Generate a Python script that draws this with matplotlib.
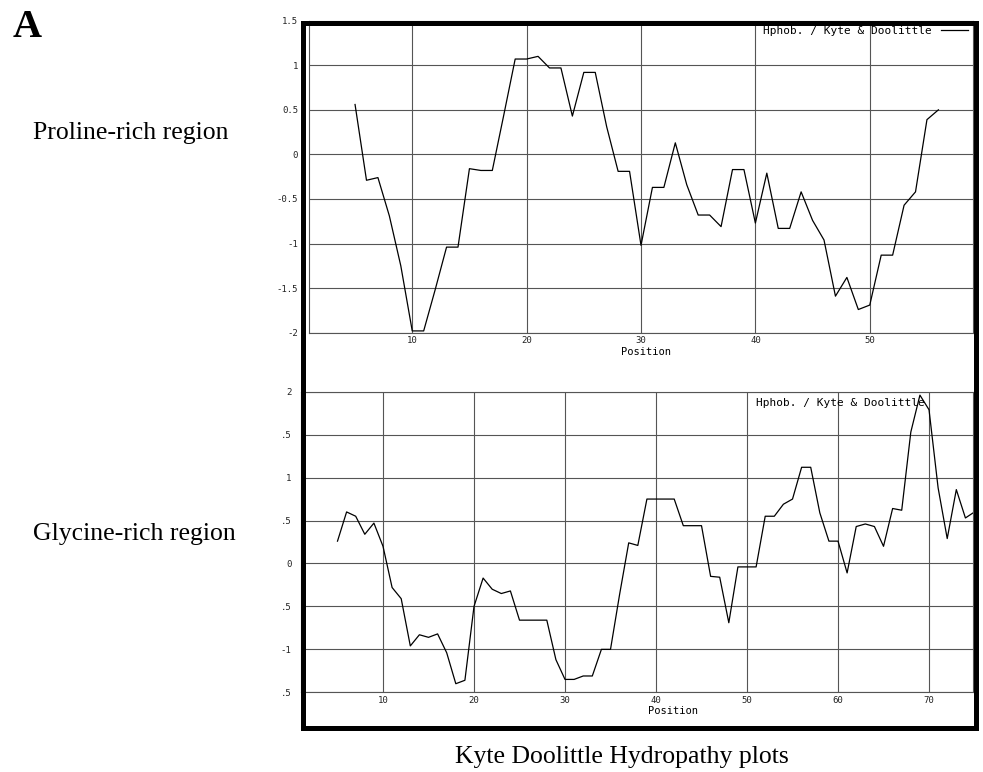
import numpy
import matplotlib
matplotlib.use('Agg')
import matplotlib.pyplot as plt
from matplotlib.patches import Rectangle

# Kyte & Doolittle hydropathy (window 9)
pro_pos = numpy.arange(5, 57)
pro_hphob = [0.56, -0.29, -0.26, -0.69, -1.25, -1.98, -1.98, -1.52, -1.04, -1.04,
             -0.16, -0.18, -0.18, 0.44, 1.07, 1.07, 1.10, 0.97, 0.97, 0.43,
             0.92, 0.92, 0.31, -0.19, -0.19, -1.02, -0.37, -0.37, 0.13, -0.34,
             -0.68, -0.68, -0.81, -0.17, -0.17, -0.77, -0.21, -0.83, -0.83, -0.42,
             -0.74, -0.96, -1.59, -1.38, -1.74, -1.69, -1.13, -1.13, -0.57, -0.42,
             0.39, 0.50]

gly_pos = numpy.arange(5, 76)
gly_hphob = [0.26, 0.60, 0.55, 0.34, 0.47, 0.20, -0.28, -0.41, -0.96, -0.83,
             -0.86, -0.82, -1.04, -1.40, -1.36, -0.50, -0.17, -0.30, -0.35, -0.32,
             -0.66, -0.66, -0.66, -0.66, -1.12, -1.35, -1.35, -1.31, -1.31, -1.00,
             -1.00, -0.36, 0.24, 0.21, 0.75, 0.75, 0.75, 0.75, 0.44, 0.44,
             0.44, -0.15, -0.16, -0.69, -0.04, -0.04, -0.04, 0.55, 0.55, 0.69,
             0.75, 1.12, 1.12, 0.59, 0.26, 0.26, -0.11, 0.43, 0.46, 0.43,
             0.20, 0.64, 0.62, 1.53, 1.96, 1.79, 0.88, 0.29, 0.86, 0.53,
             0.60]

pro_xticks = [10, 20, 30, 40, 50]
pro_yticks = [-2, -1.5, -1, -0.5, 0, 0.5, 1, 1.5]
pro_ylabels = ['-2', '-1.5', '-1', '-0.5', '0', '0.5', '1', '1.5']

gly_xticks = [10, 20, 30, 40, 50, 60, 70]
gly_yticks = [-1.5, -1, -0.5, 0, 0.5, 1, 1.5, 2]
# labels on the left of the lower plot are cut off in the original
gly_ylabels = ['.5', '-1', '.5', '0', '.5', '1', '.5', '2']

legend_txt = 'Hphob. / Kyte & Doolittle'
mono = 'DejaVu Sans Mono'
serif = 'Liberation Serif'

W, H = 983, 772


def px_axes(fig, l, t, r, b):
    return fig.add_axes([l / W, 1 - b / H, (r - l) / W, (b - t) / H])


def style(ax, xticks, yticks, ylabels, ypad):
    ax.set_xticks(xticks)
    ax.set_yticks(yticks)
    ax.set_yticklabels(ylabels)
    ax.grid(True, color='#555555', lw=0.8)
    ax.set_axisbelow(True)
    ax.tick_params(length=0, labelsize=6.5, labelcolor='#222222')
    ax.tick_params(axis='y', pad=ypad)
    ax.tick_params(axis='x', pad=2.5)
    for lab in ax.get_xticklabels() + ax.get_yticklabels():
        lab.set_family(mono)
    for s in ax.spines.values():
        s.set_color('#555555')
        s.set_linewidth(0.8)


fig = plt.figure(figsize=(9.83, 7.72), dpi=100)

ax1 = px_axes(fig, 309.3, 20.7, 972.7, 332.7)
ax1.plot(pro_pos, pro_hphob, color='black', lw=0.9, label=legend_txt)
ax1.set_xlim(1, 59)
ax1.set_ylim(-2, 1.5)
style(ax1, pro_xticks, pro_yticks, pro_ylabels, 8)
ax1.set_xlabel('Position', family=mono, fontsize=7.5)
ax1.xaxis.set_label_coords(0.507, -0.046)
ax1.legend(loc='upper right', frameon=False, markerfirst=False,
           prop={'family': mono, 'size': 8}, handlelength=2.4,
           handletextpad=0.8, borderaxespad=0.15, borderpad=0.3)

ax2 = px_axes(fig, 301.1, 391.7, 972.7, 692.3)
ax2.plot(gly_pos, gly_hphob, color='black', lw=0.9)
ax2.set_xlim(1, 74.8)
ax2.set_ylim(-1.5, 2)
style(ax2, gly_xticks, gly_yticks, gly_ylabels, 7)
ax2.set_xlabel('Position', family=mono, fontsize=7.5)
ax2.xaxis.set_label_coords(0.554, -0.047)
ax2.text(0.677, 0.963, legend_txt, transform=ax2.transAxes, family=mono,
         fontsize=8, va='center', ha='left', clip_on=True)

# thick outer box round both plots
box = Rectangle((302.5 / W, 1 - 727.5 / H), (975.5 - 302.5) / W, (727.5 - 22.5) / H,
                transform=fig.transFigure, fill=False, ec='black', lw=3.6, zorder=10)
fig.add_artist(box)

fig.text(12.7 / W, 1 - 36.7 / H, 'A', family=serif, weight='bold', fontsize=29, va='baseline')
fig.text(33.3 / W, 1 - 138.5 / H, 'Proline-rich region', family=serif, fontsize=18.5, va='baseline')
fig.text(33.3 / W, 1 - 540 / H, 'Glycine-rich region', family=serif, fontsize=18.5, va='baseline')
fig.text(622 / W, 1 - 763.5 / H, 'Kyte Doolittle Hydropathy plots', family=serif,
         fontsize=18.5, ha='center', va='baseline')

fig.savefig('out.png', dpi=100)
